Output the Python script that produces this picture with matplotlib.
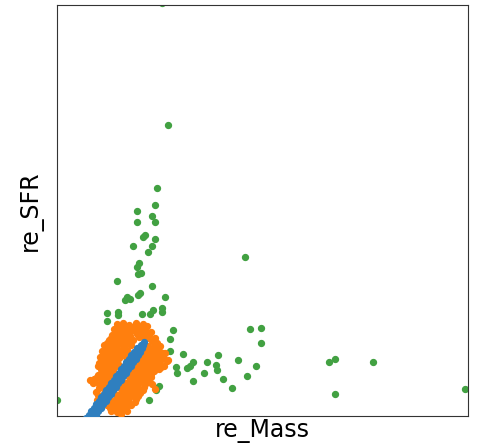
import matplotlib
matplotlib.use("Agg")
import matplotlib.pyplot as plt

# values (arbitrary units, axes span 0..41.1)
blue_x = [2.9, 3.25, 3.6, 3.16, 3.51, 3.86, 3.41, 3.76, 4.11, 3.66, 4.01, 4.36,
          3.91, 4.26, 4.61, 4.16, 4.51, 4.86, 4.41, 4.76, 5.11, 4.66, 5.01, 5.36,
          4.91, 5.26, 5.61, 5.16, 5.51, 5.86, 5.41, 5.76, 6.11, 5.67, 6.02, 6.37,
          5.92, 6.27, 6.62, 6.17, 6.52, 6.87, 6.42, 6.77, 7.12, 6.67, 7.02, 7.37,
          6.92, 7.27, 7.62, 7.17, 7.52, 7.87, 7.42, 7.77, 8.12, 7.72, 8.02, 8.32,
          8.0, 8.27, 8.5, 8.35, 8.6, 8.65]
blue_y = [-0.2, -0.2, -0.2, 0.15, 0.15, 0.15, 0.5, 0.5, 0.5, 0.85, 0.85, 0.85,
          1.2, 1.2, 1.2, 1.55, 1.55, 1.55, 1.9, 1.9, 1.9, 2.25, 2.25, 2.25,
          2.6, 2.6, 2.6, 2.95, 2.95, 2.95, 3.3, 3.3, 3.3, 3.65, 3.65, 3.65,
          4.0, 4.0, 4.0, 4.35, 4.35, 4.35, 4.7, 4.7, 4.7, 5.05, 5.05, 5.05,
          5.4, 5.4, 5.4, 5.75, 5.75, 5.75, 6.1, 6.1, 6.1, 6.45, 6.45, 6.45,
          6.8, 6.8, 6.8, 7.15, 7.15, 7.4]

orange_x = [6.0, 6.6, 7.2, 7.9, 8.6, 9.0, 6.3, 6.9, 7.6, 8.2, 8.8,
            5.7, 6.3, 7.0, 7.6, 8.3, 8.9, 6.0, 6.6, 7.3, 8.0, 8.6, 9.4,
            5.5, 6.1, 6.8, 7.3, 8.0, 8.6, 9.2, 5.4, 6.1, 6.7, 7.3, 8.2, 9.0, 9.8,
            5.2, 5.8, 6.4, 7.0, 7.6, 9.5, 10.0,
            4.7, 5.3, 6.0, 6.7, 7.4, 5.0, 5.6, 6.3, 7.0,
            4.5, 5.1, 5.7, 6.4, 7.0, 4.8, 5.4, 6.0, 6.7,
            4.3, 4.9, 5.5, 6.2, 6.8, 4.6, 5.2, 5.8, 6.5,
            4.2, 4.8, 5.4, 6.1, 4.5, 5.1, 5.7,
            4.4, 5.0, 5.6, 4.1, 4.7, 5.3, 5.9,
            4.1, 4.7, 5.3, 5.8, 4.4, 5.0, 5.6,
            3.3, 3.7, 4.5, 5.1, 3.9, 4.4, 5.0,
            4.2, 4.8, 4.1, 4.4, 4.3, 3.9, 3.6, 4.2, 4.6, 4.7, 4.5, 4.0, 4.7,
            9.1, 9.7, 10.3, 9.4, 10.0,
            8.4, 9.0, 9.6, 10.2, 10.8, 8.8, 9.3, 9.9, 10.5,
            8.2, 8.8, 9.4, 10.0, 10.6, 11.0, 8.5, 9.1, 9.7, 10.3,
            7.7, 8.3, 8.9, 9.5, 10.1, 10.7, 8.0, 8.6, 9.2, 9.8, 10.4,
            7.3, 7.9, 8.5, 9.1, 9.7, 10.2, 7.6, 8.2, 8.8, 9.4,
            7.0, 7.6, 8.2, 8.8, 9.4, 7.3, 7.9, 8.5, 9.1,
            6.5, 7.1, 7.7, 8.3, 8.9, 9.5, 6.8, 7.4, 8.0, 8.7,
            6.2, 6.8, 7.4, 8.0, 8.6, 6.5, 7.1, 7.7, 8.3,
            5.7, 6.3, 6.9, 7.5, 8.1, 6.0, 6.6, 7.2, 7.9,
            5.3, 5.9, 6.5, 7.1, 7.8, 5.6, 6.2, 6.8, 7.4,
            5.0, 5.6, 6.2, 6.9, 5.3, 5.9, 6.5,
            5.4, 6.0, 7.0, 6.4,
            10.6, 11.1, 9.8]
orange_y = [9.2, 9.3, 9.1, 9.3, 9.2, 9.0, 8.95, 9.0, 8.9, 8.95, 8.8,
            8.7, 8.6, 8.7, 8.6, 8.7, 8.5, 8.35, 8.3, 8.4, 8.45, 8.3, 8.4,
            8.1, 8.0, 8.1, 8.0, 8.2, 8.0, 8.1, 7.8, 7.75, 7.85, 7.75, 7.9, 7.8, 7.8,
            7.6, 7.5, 7.6, 7.5, 7.6, 7.5, 7.3,
            7.1, 7.0, 7.1, 7.0, 7.1, 7.3, 7.25, 7.3, 7.3,
            6.5, 6.4, 6.5, 6.4, 6.6, 6.75, 6.7, 6.8, 6.8,
            5.9, 5.8, 5.9, 5.8, 6.0, 6.2, 6.15, 6.2, 6.2,
            5.3, 5.2, 5.3, 5.2, 5.55, 5.5, 5.6,
            4.7, 4.6, 4.7, 5.0, 4.95, 4.9, 5.0,
            4.1, 4.0, 4.1, 3.8, 4.35, 4.3, 4.4,
            3.6, 3.7, 3.4, 3.3, 3.85, 3.8, 3.7,
            2.8, 2.6, 2.1, 1.5, 0.9, 2.4, 3.3, 3.2, 3.0, 2.2, 1.9, 1.6, 1.2,
            7.0, 6.9, 7.0, 6.7, 6.7,
            6.4, 6.5, 6.4, 6.5, 6.3, 6.2, 6.15, 6.2, 6.1,
            5.9, 5.8, 5.9, 5.8, 5.9, 5.5, 5.55, 5.55, 5.5, 5.55,
            5.3, 5.2, 5.3, 5.2, 5.3, 5.0, 5.0, 4.95, 4.9, 4.85, 4.9,
            4.7, 4.6, 4.7, 4.6, 4.5, 4.7, 4.35, 4.35, 4.3, 4.25,
            4.1, 4.0, 4.1, 4.0, 3.9, 3.75, 3.7, 3.7, 3.6,
            3.5, 3.4, 3.5, 3.4, 3.3, 3.2, 3.15, 3.15, 3.05, 2.95,
            2.9, 2.8, 2.9, 2.7, 2.6, 2.55, 2.55, 2.45, 2.3,
            2.3, 2.2, 2.3, 2.1, 2.0, 1.95, 1.9, 1.8, 1.7,
            1.7, 1.6, 1.7, 1.5, 1.4, 1.35, 1.3, 1.25, 1.15,
            1.1, 1.0, 1.1, 0.9, 0.8, 0.75, 0.7,
            0.5, 0.4, 0.5, 0.2,
            6.3, 5.6, 2.7]

green_x = [11.13, 9.97, 9.83, 7.97, 7.97, 9.47, 9.83, 8.8, 8.57, 9.8,
           7.63, 9.5, 9.13, 8.23, 8.03, 8.13, 8.37, 6.03, 9.53, 10.8,
           8.3, 8.13, 7.03, 6.8, 7.3, 5.03, 6.13, 6.13, 5.03, 8.47,
           9.3, 9.63, 10.5, 10.5, 11.57, 11.3, 11.3, 12.57, 13.63, 13.3,
           12.97, 15.03, 16.13, 15.87, 15.97, 14.73, 13.63, 16.63, 17.5, 18.13,
           18.97, 19.87, 19.3, 20.37, 20.37, 11.9, 11.97, 10.17, 9.9, 9.23,
           18.83, 27.23, 27.8, 31.63, 27.83, 40.8, 10.47, 0.0]
green_y = [29.1, 22.83, 21.13, 20.47, 19.4, 20.03, 19.4, 18.1, 17.87, 17.73,
           17.0, 17.0, 16.37, 15.27, 14.93, 14.2, 14.33, 13.5, 13.03, 11.87,
           12.33, 12.1, 11.93, 11.6, 11.67, 10.27, 10.43, 10.1, 9.5, 10.2,
           10.2, 10.6, 10.77, 10.37, 8.6, 7.67, 6.5, 6.2, 5.43, 5.03,
           4.83, 5.37, 6.1, 5.1, 4.6, 4.27, 3.5, 3.67, 2.83, 5.6,
           4.0, 5.0, 8.67, 8.77, 7.33, 4.93, 4.27, 3.03, 2.6, 1.6,
           15.93, 5.43, 5.7, 5.43, 2.23, 2.7, 41.3, 1.6]

fig = plt.figure(figsize=(4.8, 4.48), dpi=100)
ax = fig.add_axes([57 / 480, 32 / 448, 411 / 480, 411 / 448])

ax.scatter(green_x, green_y, s=18, color="#42a142", zorder=2)
ax.scatter(orange_x, orange_y, s=18, color="#ff7f0e", zorder=3)
ax.scatter(blue_x, blue_y, s=18, color="#2f7fbf", zorder=4)

ax.set_xlim(0, 41.1)
ax.set_ylim(0, 41.1)
ax.set_xticks([])
ax.set_yticks([])
for sp in ax.spines.values():
    sp.set_color("#333333")
ax.set_xlabel("re_Mass", fontsize=17, labelpad=2)
ax.set_ylabel("re_SFR", fontsize=17, labelpad=10)

fig.savefig("out.png", dpi=100)
